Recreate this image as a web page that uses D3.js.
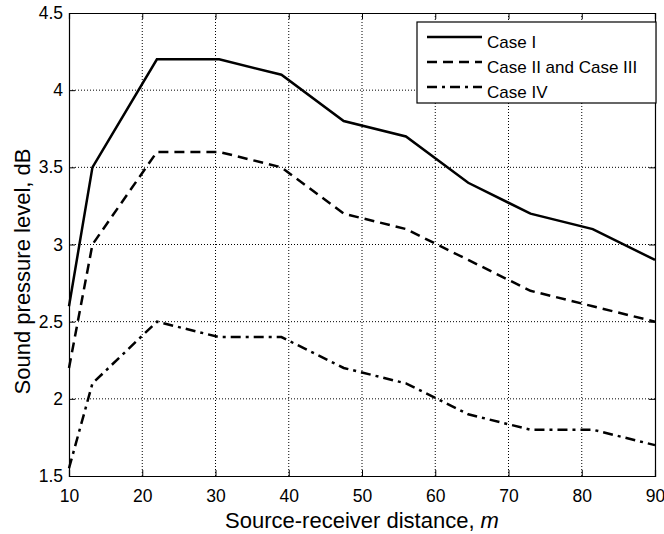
<!DOCTYPE html>
<html>
<head>
<meta charset="utf-8">
<script src="https://cdn.jsdelivr.net/npm/d3@7"></script>
<style>
  body { margin: 0; background: #fff; }
  text { font-family: "Liberation Sans", Arial, sans-serif; fill: #000; }
</style>
</head>
<body>
<div class="viz"></div>
<script>
// distances (m) and levels (dB)
const distance = [10, 13.2, 22, 30.5, 39, 47.5, 56, 64.5, 73, 81.5, 90]
const caseI = [2.6, 3.5, 4.2, 4.2, 4.1, 3.8, 3.7, 3.4, 3.2, 3.1, 2.9]
const caseII_III = [2.2, 3.0, 3.6, 3.6, 3.5, 3.2, 3.1, 2.9, 2.7, 2.6, 2.5]
const caseIV = [1.55, 2.1, 2.5, 2.4, 2.4, 2.2, 2.1, 1.9, 1.8, 1.8, 1.7]
const xTicks = [10, 20, 30, 40, 50, 60, 70, 80, 90]
const yTicks = [1.5, 2, 2.5, 3, 3.5, 4, 4.5]
const seriesNames = ["Case I", "Case II and Case III", "Case IV"]

const W = 664, H = 534
const mLeft = 69, mRight = 655, mTop = 13, mBottom = 476

const svg = d3.select(".viz").append("svg")
  .attr("width", W).attr("height", H)

const x = d3.scaleLinear().domain([10, 90]).range([mLeft, mRight])
const y = d3.scaleLinear().domain([1.5, 4.5]).range([mBottom, mTop])

// grid
const grid = svg.append("g")
grid.selectAll(".gx").data(xTicks.slice(1, -1)).enter().append("line")
  .attr("x1", d => x(d)).attr("x2", d => x(d))
  .attr("y1", mTop).attr("y2", mBottom)
  .attr("stroke", "#000").attr("stroke-width", 1).attr("stroke-dasharray", "1,2")
grid.selectAll(".gy").data(yTicks.slice(1, -1)).enter().append("line")
  .attr("y1", d => y(d)).attr("y2", d => y(d))
  .attr("x1", mLeft).attr("x2", mRight)
  .attr("stroke", "#000").attr("stroke-width", 1).attr("stroke-dasharray", "1,2")

// axes
svg.append("g").attr("transform", `translate(0,${mBottom})`)
  .call(d3.axisBottom(x).tickValues(xTicks).tickSize(-6).tickPadding(14).tickFormat(d3.format("d")))
svg.append("g").attr("transform", `translate(0,${mTop})`)
  .call(d3.axisTop(x).tickValues(xTicks).tickSize(-6).tickFormat(""))
svg.append("g").attr("transform", `translate(${mLeft},0)`)
  .call(d3.axisLeft(y).tickValues(yTicks).tickSize(-6).tickPadding(6).tickFormat(d => d))
svg.append("g").attr("transform", `translate(${mRight},0)`)
  .call(d3.axisRight(y).tickValues(yTicks).tickSize(-6).tickFormat(""))

svg.selectAll(".domain").attr("stroke", "#000").attr("stroke-width", 1.2)
svg.selectAll(".tick line").attr("stroke", "#000")
svg.selectAll(".tick text").style("font-size", "17.5px").attr("fill", "#000")

// lines
const styles = [
  { data: caseI, dash: null },
  { data: caseII_III, dash: "10,6" },
  { data: caseIV, dash: "10,5,3,5" }
]
const line = d3.line().x((d, i) => x(distance[i])).y(d => y(d))
styles.forEach(s => {
  svg.append("path")
    .datum(s.data)
    .attr("d", line)
    .attr("fill", "none")
    .attr("stroke", "#000")
    .attr("stroke-width", 2.5)
    .attr("stroke-dasharray", s.dash)
})

// legend
const lg = svg.append("g")
lg.append("rect")
  .attr("x", 417).attr("y", 22).attr("width", 239).attr("height", 81)
  .attr("fill", "#fff").attr("stroke", "#000").attr("stroke-width", 1.2)
seriesNames.forEach((name, i) => {
  const yy = 37 + i * 25
  lg.append("line")
    .attr("x1", 427).attr("x2", 482).attr("y1", yy).attr("y2", yy)
    .attr("stroke", "#000").attr("stroke-width", 2.5)
    .attr("stroke-dasharray", styles[i].dash)
  lg.append("text")
    .attr("x", 487).attr("y", yy + 11)
    .style("font-size", "17px")
    .text(name)
})

// labels
const xl = svg.append("text")
  .attr("x", (mLeft + mRight) / 2).attr("y", 528)
  .attr("text-anchor", "middle")
  .style("font-size", "22px")
xl.append("tspan").text("Source-receiver distance, ")
xl.append("tspan").style("font-style", "italic").text("m")

svg.append("text")
  .attr("transform", `translate(30,${(mTop + mBottom) / 2 + 27}) rotate(-90)`)
  .attr("text-anchor", "middle")
  .style("font-size", "22px")
  .text("Sound pressure level, dB")
</script>
</body>
</html>
